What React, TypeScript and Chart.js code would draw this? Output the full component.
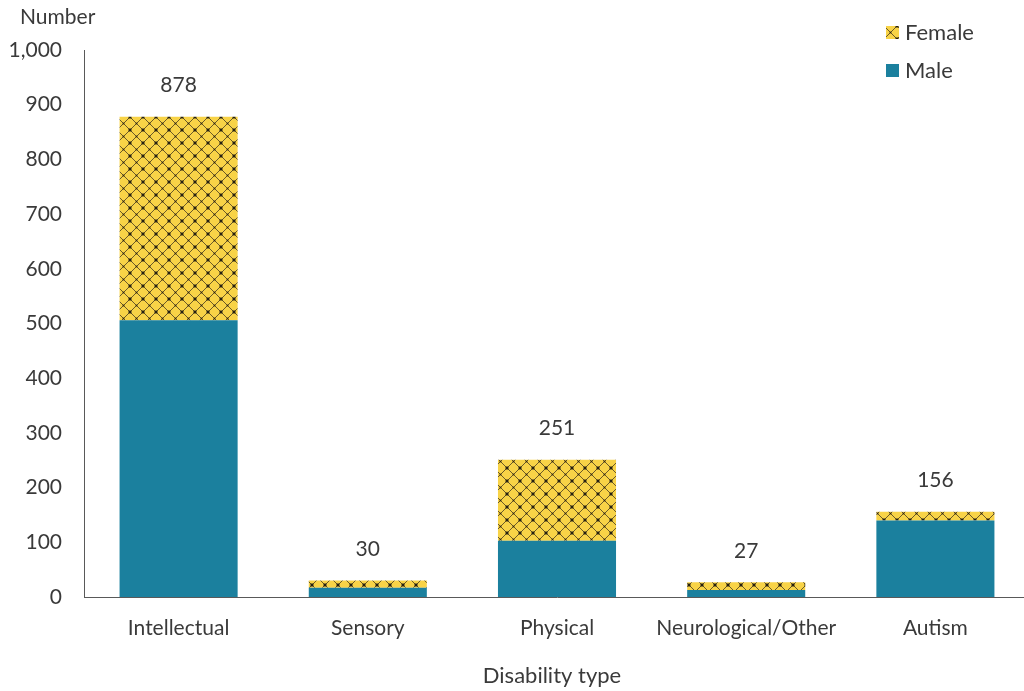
import React, { useEffect, useRef } from "react";
import { Chart, registerables } from "chart.js";

Chart.register(...registerables);

const categories = ["Intellectual", "Sensory", "Physical", "Neurological/Other", "Autism"];
const maleValues = [506, 17, 103, 13, 140];
const femaleValues = [372, 13, 148, 14, 16];
const totalLabels = ["878", "30", "251", "27", "156"];
const yTicks = [0, 100, 200, 300, 400, 500, 600, 700, 800, 900, 1000];

const TEAL = "#1B809E";
const YELLOW = "#F8D347";
const TEXT = "#3a3a3a";
const FONT = "Lato, 'Open Sans', sans-serif";
const CANVAS_W = 1034;

function makePattern(): CanvasPattern | string {
  const s = 13;
  const c = document.createElement("canvas");
  c.width = s;
  c.height = s;
  const g = c.getContext("2d");
  if (!g) return YELLOW;
  g.fillStyle = YELLOW;
  g.fillRect(0, 0, s, s);
  g.strokeStyle = "rgba(60,50,30,0.75)";
  g.lineWidth = 1;
  g.beginPath();
  g.moveTo(0, 0);
  g.lineTo(s, s);
  g.moveTo(s, 0);
  g.lineTo(0, s);
  g.stroke();
  g.fillStyle = "rgba(30,25,15,0.9)";
  const pts = [[0, 0], [s, 0], [0, s], [s, s]];
  for (const [x, y] of pts) {
    g.fillRect(x - 1.5, y - 1.5, 3, 3);
  }
  g.fillStyle = "rgba(30,25,15,0.6)";
  g.fillRect(s / 2 - 1, s / 2 - 1, 2, 2);
  const p = g.createPattern(c, "repeat");
  return p || YELLOW;
}

export default function App() {
  const ref = useRef<HTMLCanvasElement | null>(null);

  useEffect(() => {
    if (!ref.current) return;
    const pattern = makePattern();

    const overlay = {
      id: "overlay",
      afterDatasetsDraw(chart: any) {
        const ctx = chart.ctx;
        const area = chart.chartArea;
        ctx.save();
        const meta = chart.getDatasetMeta(1);
        ctx.font = `21px ${FONT}`;
        ctx.fillStyle = TEXT;
        ctx.textAlign = "center";
        ctx.textBaseline = "middle";
        meta.data.forEach((bar: any, i: number) => {
          ctx.fillText(totalLabels[i], bar.x, bar.y - 31);
        });
        ctx.textAlign = "left";
        ctx.fillText("Number", 20, 17);
        ctx.textAlign = "center";
        ctx.font = `22px ${FONT}`;
        ctx.fillText("Disability type", (area.left + area.right) / 2 - 5, 676);
        ctx.textAlign = "left";
        const lx = 886;
        const items = [
          { label: "Female", fill: pattern, y: 32 },
          { label: "Male", fill: TEAL, y: 70 },
        ];
        for (const it of items) {
          ctx.fillStyle = it.fill as any;
          ctx.fillRect(lx, it.y - 6, 13, 13);
          ctx.fillStyle = TEXT;
          ctx.fillText(it.label, lx + 19, it.y + 1);
        }
        ctx.restore();
      },
    };

    const chart = new Chart(ref.current, {
      type: "bar",
      data: {
        labels: categories,
        datasets: [
          {
            label: "Male",
            data: maleValues,
            backgroundColor: TEAL,
            borderWidth: 0,
          },
          {
            label: "Female",
            data: femaleValues,
            backgroundColor: pattern as any,
            borderWidth: 0,
          },
        ],
      },
      options: {
        animation: false,
        responsive: false,
        maintainAspectRatio: false,
        layout: { padding: { top: 50, right: 4, left: 0, bottom: 0 } },
        plugins: {
          legend: { display: false },
          tooltip: { enabled: false },
        },
        datasets: {
          bar: { barPercentage: 1, categoryPercentage: 0.624 },
        },
        scales: {
          x: {
            stacked: true,
            grid: { display: false, drawTicks: false },
            border: { display: true, color: "#595959", width: 1 },
            ticks: {
              color: TEXT,
              font: { family: FONT, size: 21 },
              padding: 19,
              maxRotation: 0,
              autoSkip: false,
            },
            afterFit(scale: any) {
              scale.height = 94;
            },
          },
          y: {
            stacked: true,
            min: 0,
            max: 1000,
            grid: { display: false, drawTicks: false },
            border: { display: true, color: "#595959", width: 1 },
            afterBuildTicks(scale: any) {
              scale.ticks = yTicks.map((v) => ({ value: v }));
            },
            ticks: {
              color: TEXT,
              font: { family: FONT, size: 21 },
              padding: 22,
              callback: (v: any) => Number(v).toLocaleString("en-US"),
            },
            afterFit(scale: any) {
              scale.width = 84;
            },
          },
        },
      },
      plugins: [overlay],
    });

    return () => chart.destroy();
  }, []);

  return (
    <div style={{ position: "absolute", left: 0, top: 0, width: 1024, height: 691, background: "#fff", overflow: "hidden" }}>
      <canvas ref={ref} width={CANVAS_W} height={691} style={{ width: CANVAS_W, height: 691 }} />
    </div>
  );
}
